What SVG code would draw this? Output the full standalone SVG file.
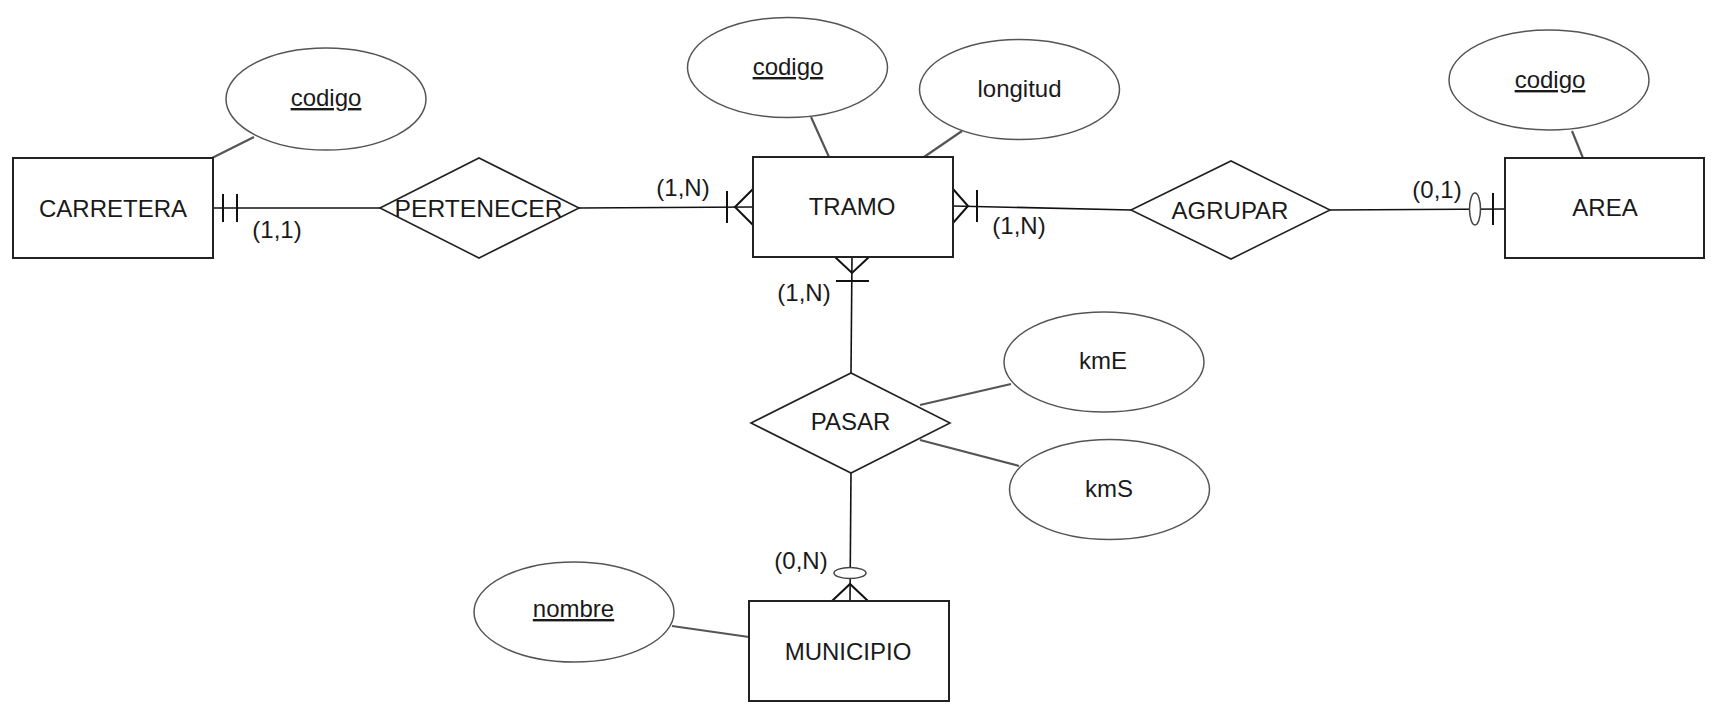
<svg xmlns="http://www.w3.org/2000/svg" width="1716" height="716" viewBox="0 0 1716 716">
<style>
.ent{fill:#fff;stroke:#222;stroke-width:2}
.rel{fill:#fff;stroke:#222;stroke-width:1.6}
.att{fill:#fff;stroke:#555;stroke-width:1.5}
.alink{stroke:#555;stroke-width:2.2;fill:none}
.conn{stroke:#111;stroke-width:1.6;fill:none}
.mk{stroke:#111;stroke-width:2;fill:none}
.circ{stroke:#444;stroke-width:1.5;fill:#fff}
text{font-family:"Liberation Sans",Arial,Helvetica,sans-serif;fill:#1a1a1a;text-anchor:middle}
.t{font-size:24px}
.l{font-size:24px}
.u{text-decoration:underline}
</style>
<rect width="1716" height="716" fill="#fff"/>
<g id="connectors">
  <line class="alink" x1="254" y1="137" x2="212" y2="158"/>
  <line class="alink" x1="811" y1="117" x2="829" y2="157"/>
  <line class="alink" x1="962" y1="131" x2="924" y2="157"/>
  <line class="alink" x1="1572" y1="131" x2="1583" y2="158"/>
  <line class="alink" x1="920" y1="405" x2="1011" y2="384"/>
  <line class="alink" x1="920" y1="440" x2="1019" y2="466"/>
  <line class="alink" x1="672" y1="626" x2="749" y2="637"/>
  <!-- CARRETERA - PERTENECER -->
  <line class="conn" x1="213" y1="208" x2="380" y2="208"/>
  <line class="mk" x1="223" y1="194" x2="223" y2="222"/>
  <line class="mk" x1="237" y1="194" x2="237" y2="222"/>
  <!-- PERTENECER - TRAMO -->
  <line class="conn" x1="579" y1="208" x2="753" y2="207"/>
  <line class="mk" x1="727" y1="191" x2="727" y2="223"/>
  <polyline class="mk" points="753,189 735,207 753,225"/>
  <!-- TRAMO - AGRUPAR -->
  <line class="conn" x1="953" y1="206" x2="1131" y2="210"/>
  <line class="mk" x1="977" y1="190" x2="977" y2="222"/>
  <polyline class="mk" points="953,189 968,206 953,223"/>
  <!-- AGRUPAR - AREA -->
  <line class="conn" x1="1330" y1="210" x2="1505" y2="209"/>
  <ellipse class="circ" cx="1475" cy="209" rx="5.5" ry="16"/>
  <line class="mk" x1="1493" y1="193" x2="1493" y2="225"/>
  <!-- TRAMO - PASAR -->
  <line class="conn" x1="852" y1="257" x2="851" y2="373"/>
  <polyline class="mk" points="835,257 852,273 869,257"/>
  <line class="mk" x1="836" y1="281" x2="869" y2="281"/>
  <!-- PASAR - MUNICIPIO -->
  <line class="conn" x1="851" y1="473" x2="850" y2="601"/>
  <polyline class="mk" points="832,601 850,584 868,601"/>
  <ellipse class="circ" cx="850" cy="573" rx="16" ry="5.5"/>
</g>
<g id="carretera"><rect class="ent" x="13" y="158" width="200" height="100"/><text class="t" x="113" y="216.5">CARRETERA</text></g>
<g id="carretera-codigo"><ellipse class="att" cx="326" cy="99" rx="100" ry="51"/><text class="t u" x="326" y="106">codigo</text></g>
<g id="pertenecer"><polygon class="rel" points="380,208 479,158 579,208 479,258"/><text class="t" x="478.5" y="216.5" textLength="168" lengthAdjust="spacingAndGlyphs">PERTENECER</text></g>
<g id="tramo"><rect class="ent" x="753" y="157" width="200" height="100"/><text class="t" x="852" y="215">TRAMO</text></g>
<g id="tramo-codigo"><ellipse class="att" cx="787.5" cy="67.5" rx="100" ry="50"/><text class="t u" x="788" y="75">codigo</text></g>
<g id="tramo-longitud"><ellipse class="att" cx="1019.5" cy="89.5" rx="100" ry="50"/><text class="t" x="1019.5" y="97">longitud</text></g>
<g id="agrupar"><polygon class="rel" points="1131,210 1231,161 1330,210 1231,259"/><text class="t" x="1230" y="219">AGRUPAR</text></g>
<g id="area"><rect class="ent" x="1505" y="158" width="199" height="100"/><text class="t" x="1605" y="216">AREA</text></g>
<g id="area-codigo"><ellipse class="att" cx="1549" cy="80" rx="100" ry="50"/><text class="t u" x="1550" y="88">codigo</text></g>
<g id="pasar"><polygon class="rel" points="751,423 851,373 950,423 851,473"/><text class="t" x="850.5" y="430">PASAR</text></g>
<g id="kme"><ellipse class="att" cx="1104" cy="362" rx="100" ry="50"/><text class="t" x="1103" y="369">kmE</text></g>
<g id="kms"><ellipse class="att" cx="1109.5" cy="489.5" rx="100" ry="50"/><text class="t" x="1109" y="497">kmS</text></g>
<g id="municipio"><rect class="ent" x="749" y="601" width="200" height="100"/><text class="t" x="848" y="660">MUNICIPIO</text></g>
<g id="municipio-nombre"><ellipse class="att" cx="574" cy="612" rx="100" ry="50"/><text class="t u" x="573.5" y="617">nombre</text></g>
<g id="labels">
  <text class="l" x="277" y="238">(1,1)</text>
  <text class="l" x="683" y="196">(1,N)</text>
  <text class="l" x="1019" y="234">(1,N)</text>
  <text class="l" x="804" y="301">(1,N)</text>
  <text class="l" x="1437" y="198">(0,1)</text>
  <text class="l" x="801" y="569">(0,N)</text>
</g>
</svg>
